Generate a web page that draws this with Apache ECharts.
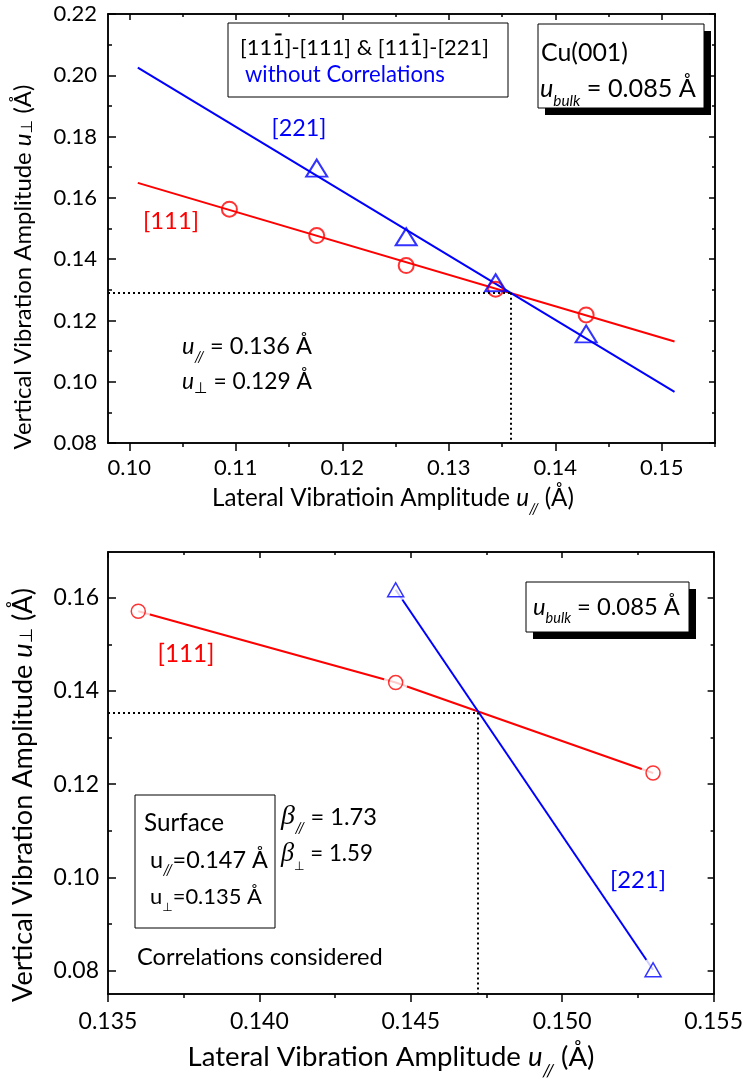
<!DOCTYPE html>
<html><head><meta charset="utf-8">
<script src="https://cdn.jsdelivr.net/npm/echarts@6/dist/echarts.min.js"></script>
<style>html,body{margin:0;padding:0;background:#fff}#c{width:746px;height:1082px}</style>
</head><body><div id="c"></div>
<script>
// ---------------- data ----------------
// top panel: without correlations
const topX111 = [0.1094, 0.1176, 0.1260, 0.1344, 0.1429];
const topY111 = [0.1563, 0.1477, 0.1379, 0.1302, 0.1218];
const topX221 = [0.1176, 0.1260, 0.1344, 0.1429];
const topY221 = [0.1697, 0.1473, 0.1323, 0.1156];
const topFitX = [0.1008, 0.1512];
const topFit111Y = [0.1649, 0.1131];
const topFit221Y = [0.2025, 0.0967];
const topCross = [0.1358, 0.129];
const topXRange = [0.098, 0.155];
const topYRange = [0.08, 0.22];
const topXTicks = [0.10, 0.11, 0.12, 0.13, 0.14, 0.15];
const topXMinor = [0.105, 0.115, 0.125, 0.135, 0.145, 0.155];
const topYTicks = [0.08, 0.10, 0.12, 0.14, 0.16, 0.18, 0.20, 0.22];
const topYMinor = [0.09, 0.11, 0.13, 0.15, 0.17, 0.19, 0.21];
// bottom panel: correlations considered
const botX111 = [0.1360, 0.1445, 0.1530];
const botY111 = [0.1571, 0.1418, 0.1224];
const botX221 = [0.1445, 0.1530];
const botY221 = [0.1617, 0.0802];
const botCross = [0.1472, 0.1354];
const botXRange = [0.135, 0.155];
const botYRange = [0.075, 0.1698];
const botXTicks = [0.135, 0.140, 0.145, 0.150, 0.155];
const botXMinor = [0.1375, 0.1425, 0.1475, 0.1525];
const botYTicks = [0.08, 0.10, 0.12, 0.14, 0.16];
const botYMinor = [0.09, 0.11, 0.13, 0.15];

const RED = '#ff0000', BLUE = '#0000ff';
const FF = 'Lato';
const PAR = '/\u200C/';

// ---------------- helpers ----------------
const mctx = document.createElement('canvas').getContext('2d');
function tw(t, s, it, ff) { mctx.font = (it ? 'italic ' : '') + s + 'px ' + (ff || FF); return mctx.measureText(t).width; }
// parts: {t, s, i (italic), dy, c, over, ff}
function rich(x, y, parts, o) {
  o = o || {};
  let scale = 1;
  const widthAt = k => parts.reduce((a, p) => a + tw(p.t, p.s * k, p.i, p.ff), 0);
  if (o.w) scale = o.w / widthAt(1);
  let total = widthAt(scale);
  let cx = o.align === 'center' ? -total / 2 : 0;
  const ch = [];
  parts.forEach(p => {
    const s = p.s * scale, w = tw(p.t, s, p.i, p.ff), dy = (p.dy || 0) * scale;
    ch.push({ type: 'text', x: cx, y: dy, silent: true,
      style: { text: p.t, fontSize: s, fontFamily: p.ff || FF, fontStyle: p.i ? 'italic' : 'normal',
        fill: p.c || o.c || '#000', align: 'left', verticalAlign: 'middle' } });
    if (p.over) ch.push({ type: 'line', silent: true,
      shape: { x1: cx + w * 0.25, y1: dy - s * 0.62, x2: cx + w * 0.75, y2: dy - s * 0.62 },
      style: { stroke: p.c || o.c || '#000', lineWidth: 2 } });
    cx += w;
  });
  return { type: 'group', x: x, y: y, rotation: o.rot || 0, children: ch };
}
function box(x, y, w, h, shadow) {
  const arr = [];
  if (shadow) arr.push({ type: 'rect', shape: { x: x + 7, y: y + 7, width: w, height: h }, style: { fill: '#000' }, silent: true });
  arr.push({ type: 'rect', shape: { x: x, y: y, width: w, height: h }, style: { fill: '#fff', stroke: '#000', lineWidth: 1 }, silent: true });
  return arr;
}

const axLine = { show: true, onZero: false, lineStyle: { color: '#000', width: 1.5 } };
function mkAxis(grid, pos, range, vals, len, inside, label) {
  return {
    type: 'value', gridIndex: grid, position: pos, min: range[0], max: range[1],
    axisLine: axLine, splitLine: { show: false },
    axisTick: { show: true, customValues: vals, length: len, inside: inside, lineStyle: { color: '#000', width: 1.5 } },
    axisLabel: label ? Object.assign({ show: true, customValues: vals, color: '#000', fontFamily: FF }, label) : { show: false }
  };
}
function axesSet(grid, dim, rng, ticks, minor, label) {
  const outside = dim === 'x';
  const p1 = dim === 'x' ? 'bottom' : 'left', p2 = dim === 'x' ? 'top' : 'right';
  return [
    mkAxis(grid, p1, rng, ticks, 8, !outside, label),
    mkAxis(grid, p1, rng, minor, 4, !outside, null),
    mkAxis(grid, p2, rng, ticks, 6, true, null),
    mkAxis(grid, p2, rng, minor, 3, true, null)
  ];
}
const fmt = d => v => v.toFixed(d);

const xAxes = [].concat(
  axesSet(0, 'x', topXRange, topXTicks, topXMinor, { formatter: fmt(2), fontSize: 22, margin: 14 }),
  axesSet(1, 'x', botXRange, botXTicks, botXMinor, { formatter: fmt(3), fontSize: 23, margin: 16 })
);
const yAxes = [].concat(
  axesSet(0, 'y', topYRange, topYTicks, topYMinor, { formatter: fmt(2), fontSize: 22, margin: 11 }),
  axesSet(1, 'y', botYRange, botYTicks, botYMinor, { formatter: fmt(2), fontSize: 23, margin: 9 })
);

const zip = (a, b) => a.map((v, i) => [v, b[i]]);
const dotted = { type: [2, 3], color: '#000', width: 2 };
function crossMark(cross, xr, yr) {
  return { silent: true, symbol: 'none', label: { show: false }, lineStyle: dotted, animation: false,
    data: [
      [{ coord: [xr[0], cross[1]] }, { coord: [cross[0], cross[1]] }],
      [{ coord: [cross[0], cross[1]] }, { coord: [cross[0], yr[0]] }]
    ] };
}
const hollow = (c, w) => ({ color: 'rgba(0,0,0,0)', borderColor: c, borderWidth: w });

const series = [
  // ---- top ----
  { type: 'line', xAxisIndex: 0, yAxisIndex: 0, data: zip(topFitX, topFit111Y), showSymbol: false, z: 2,
    lineStyle: { color: RED, width: 2 }, markLine: crossMark(topCross, topXRange, topYRange) },
  { type: 'line', xAxisIndex: 0, yAxisIndex: 0, data: zip(topFitX, topFit221Y), showSymbol: false, z: 2,
    lineStyle: { color: BLUE, width: 2 } },
  { type: 'scatter', xAxisIndex: 0, yAxisIndex: 0, data: zip(topX111, topY111), symbol: 'circle', symbolSize: 15, z: 4,
    itemStyle: hollow(RED, 2) },
  { type: 'scatter', xAxisIndex: 0, yAxisIndex: 0, data: zip(topX221, topY221), symbol: 'triangle', symbolSize: [21, 17], z: 4,
    itemStyle: hollow(BLUE, 2) },
  // ---- bottom ----
  { type: 'line', xAxisIndex: 4, yAxisIndex: 4, data: zip(botX111, botY111), showSymbol: false, z: 2,
    lineStyle: { color: RED, width: 2 }, markLine: crossMark(botCross, botXRange, botYRange) },
  { type: 'line', xAxisIndex: 4, yAxisIndex: 4, data: zip(botX221, botY221), showSymbol: false, z: 2,
    lineStyle: { color: BLUE, width: 2 } },
  { type: 'scatter', xAxisIndex: 4, yAxisIndex: 4, data: zip(botX111, botY111).concat(zip(botX221, botY221)),
    symbol: 'circle', symbolSize: 24, z: 3, itemStyle: { color: '#fff' } },
  { type: 'scatter', xAxisIndex: 4, yAxisIndex: 4, data: zip(botX111, botY111), symbol: 'circle', symbolSize: 14, z: 4,
    itemStyle: hollow(RED, 1.5) },
  { type: 'scatter', xAxisIndex: 4, yAxisIndex: 4, data: zip(botX221, botY221), symbol: 'triangle', symbolSize: [16, 14], z: 4,
    itemStyle: hollow(BLUE, 1.5) }
];

// ---------------- annotations ----------------
const S = 21;
const g = [];
// top panel
g.push(...box(228, 23, 280, 74, false));
g.push(rich(240, 48, [
  { t: '[11', s: S }, { t: '1', s: S, over: true }, { t: ']-[111] & [11', s: S }, { t: '1', s: S, over: true }, { t: ']-[221]', s: S }
], { w: 249 }));
g.push(rich(245, 75, [{ t: 'without Correlations', s: S, c: BLUE }], { w: 200 }));
g.push(...box(538, 24, 166, 84, true));
g.push(rich(541, 53, [{ t: 'Cu(001)', s: 23 }], { w: 87 }));
g.push(rich(540, 89, [{ t: 'u', s: 23, i: true }, { t: 'bulk', s: 14, i: true, dy: 11 }, { t: ' = 0.085 Å', s: 23 }], { w: 156 }));
g.push(rich(299, 128, [{ t: '[221]', s: 22, c: BLUE }], { w: 55, align: 'center' }));
g.push(rich(171, 221, [{ t: '[111]', s: 22, c: RED }], { w: 56, align: 'center' }));
g.push(rich(182, 346, [{ t: 'u', s: 22, i: true }, { t: PAR, s: 14, i: true, dy: 10 }, { t: ' = 0.136 Å', s: 22 }], { w: 130 }));
g.push(rich(182, 382, [{ t: 'u', s: 22, i: true }, { t: '⊥', s: 15, dy: 7, ff: 'DejaVu Sans' }, { t: ' = 0.129 Å', s: 22 }], { w: 130 }));
g.push(rich(393, 498, [{ t: 'Lateral Vibratioin Amplitude ', s: 21 }, { t: 'u', s: 21, i: true }, { t: PAR, s: 13, i: true, dy: 10 }, { t: ' (Å)', s: 21 }], { w: 362, align: 'center' }));
g.push(rich(23, 267, [{ t: 'Vertical Vibration Amplitude ', s: 21 }, { t: 'u', s: 21, i: true }, { t: '⊥', s: 14, dy: 4, ff: 'DejaVu Sans' }, { t: ' (Å)', s: 21 }], { w: 365, align: 'center', rot: Math.PI / 2 }));
// bottom panel
g.push(...box(526, 582, 163, 50, true));
g.push(rich(533, 607, [{ t: 'u', s: 23, i: true }, { t: 'bulk', s: 14, i: true, dy: 11 }, { t: ' = 0.085 Å', s: 23 }], { w: 147 }));
g.push(rich(186, 654, [{ t: '[111]', s: 22, c: RED }], { w: 57, align: 'center' }));
g.push(...box(135, 795, 140, 133, false));
g.push(rich(144, 823, [{ t: 'Surface', s: 22 }], { w: 80 }));
g.push(rich(150, 860, [{ t: 'u', s: 22 }, { t: PAR, s: 14, i: true, dy: 10 }, { t: '=0.147 Å', s: 22 }], { w: 118 }));
g.push(rich(150, 897, [{ t: 'u', s: 22 }, { t: '⊥', s: 12, dy: 11, ff: 'DejaVu Sans' }, { t: '=0.135 Å', s: 22 }], { w: 112 }));
g.push(rich(281, 817, [{ t: 'β', s: 26, i: true, ff: 'Liberation Serif' }, { t: PAR, s: 14, i: true, dy: 10 }, { t: ' = 1.73', s: 22 }], { w: 96 }));
g.push(rich(281, 854, [{ t: 'β', s: 26, i: true, ff: 'Liberation Serif' }, { t: '⊥', s: 12, dy: 13, ff: 'DejaVu Sans' }, { t: ' = 1.59', s: 22 }], { w: 92 }));
g.push(rich(638, 880, [{ t: '[221]', s: 22, c: BLUE }], { w: 56, align: 'center' }));
g.push(rich(137, 957, [{ t: 'Correlations considered', s: 22 }], { w: 246 }));
g.push(rich(391, 1057, [{ t: 'Lateral Vibration Amplitude ', s: 23 }, { t: 'u', s: 23, i: true }, { t: PAR, s: 15, i: true, dy: 12 }, { t: ' (Å)', s: 23 }], { w: 407, align: 'center' }));
g.push(rich(23, 795, [{ t: 'Vertical Vibration Amplitude ', s: 23 }, { t: 'u', s: 23, i: true }, { t: '⊥', s: 15, dy: 4, ff: 'DejaVu Sans' }, { t: ' (Å)', s: 23 }], { w: 414, align: 'center', rot: Math.PI / 2 }));

const chart = echarts.init(document.getElementById('c'), null, { renderer: 'canvas' });
chart.setOption({
  animation: false,
  backgroundColor: '#fff',
  grid: [
    { left: 108, top: 14, width: 607, height: 429 },
    { left: 108, top: 552, width: 607, height: 442 }
  ],
  xAxis: xAxes,
  yAxis: yAxes,
  series: series,
  graphic: g
});
</script></body></html>
